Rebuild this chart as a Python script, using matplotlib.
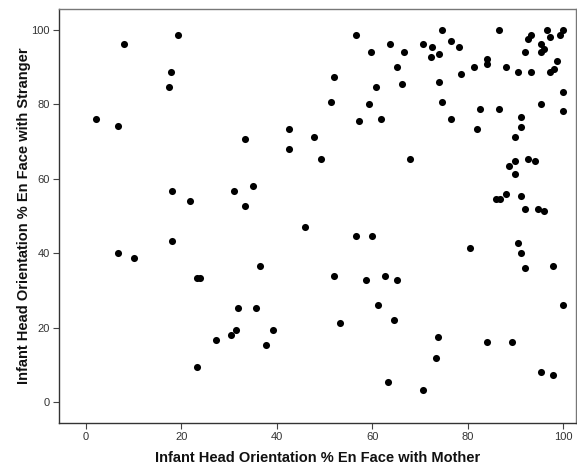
#!/usr/bin/env python3
"""Scatter of infant head orientation en face with mother vs. with stranger."""

import matplotlib

matplotlib.use("Agg")
import matplotlib.pyplot as plt

# percent en face with mother (x) and with stranger (y), one pair per infant
with_mother = [
    19.3, 8.0, 17.8, 17.3, 2.0, 6.6, 18.0, 21.8, 33.3, 42.6,
    42.6, 47.9, 49.2, 31.0, 35.1, 33.3, 56.6, 63.8, 59.8, 66.7,
    74.6, 70.6, 72.6, 72.3, 74.1, 76.5, 65.3, 51.9, 60.7, 66.2,
    74.0, 51.3, 59.3, 74.6, 57.3, 61.9, 76.5, 68.0, 86.6, 96.6,
    100.0, 93.2, 92.7, 97.3, 99.4, 78.1, 92.0, 95.3, 96.0, 95.3,
    98.7, 84.0, 84.0, 81.3, 78.6, 88.1, 90.6, 93.3, 97.3, 98.1,
    100.0, 95.3, 100.0, 82.7, 86.6, 82.0, 91.3, 91.3, 90.0, 92.7,
    94.1, 90.0, 88.7, 90.0, 88.1, 91.3, 86.0, 86.7, 92.0, 94.7,
    96.0, 18.0, 6.6, 10.0, 45.9, 36.5, 23.3, 24.0, 31.9, 35.6,
    31.4, 30.5, 39.3, 27.3, 37.7, 23.3, 56.6, 60.0, 51.9, 58.6,
    62.7, 65.3, 61.2, 53.3, 64.6, 73.9, 73.3, 63.3, 70.6, 80.6,
    90.6, 91.3, 92.0, 98.0, 100.0, 84.0, 89.3, 95.3, 98.0,
]
with_stranger = [
    98.7, 96.1, 88.7, 84.7, 76.1, 74.1, 56.8, 54.1, 70.7, 73.4,
    68.0, 71.3, 65.4, 56.7, 58.0, 52.7, 98.7, 96.2, 94.1, 94.1,
    100.0, 96.1, 95.4, 92.7, 93.5, 96.9, 90.1, 87.4, 84.7, 85.4,
    86.1, 80.7, 80.0, 80.7, 75.4, 76.1, 76.1, 65.4, 100.0, 100.0,
    100.0, 98.7, 97.6, 98.1, 98.7, 95.4, 94.1, 96.2, 94.8, 94.0,
    91.5, 92.2, 90.7, 90.1, 88.1, 90.1, 88.7, 88.7, 88.7, 89.5,
    83.4, 80.0, 78.1, 78.8, 78.8, 73.4, 76.7, 74.0, 71.3, 65.4,
    64.7, 64.7, 63.4, 61.4, 56.0, 55.4, 54.7, 54.7, 52.0, 52.0,
    51.4, 43.3, 40.1, 38.7, 47.0, 36.7, 33.4, 33.4, 25.4, 25.4,
    19.4, 18.1, 19.4, 16.7, 15.4, 9.4, 44.7, 44.7, 34.0, 32.8,
    34.0, 32.8, 26.0, 21.4, 22.0, 17.4, 12.0, 5.4, 3.4, 41.4,
    42.7, 40.0, 36.1, 36.7, 26.0, 16.1, 16.1, 8.1, 7.4,
]
ticks = [0, 20, 40, 60, 80, 100]

plt.rcParams["font.family"] = ["Liberation Sans", "DejaVu Sans"]

fig = plt.figure(figsize=(5.77, 4.70), dpi=100)
ax = fig.add_axes((0.1028, 0.1006, 0.8952, 0.8803))

ax.scatter(with_mother, with_stranger, s=26, c="black", linewidths=0, zorder=3)

ax.set_xlim(-5.6, 102.7)
ax.set_ylim(-5.5, 105.6)
ax.set_xticks(ticks)
ax.set_yticks(ticks)
ax.tick_params(direction="out", length=4, width=0.8, color="#444444",
               labelsize=8, labelcolor="#333333", pad=3)

for side in ("left", "bottom"):
    ax.spines[side].set_color("#333333")
    ax.spines[side].set_linewidth(1.0)
for side in ("top", "right"):
    ax.spines[side].set_color("#777777")
    ax.spines[side].set_linewidth(1.0)

ax.set_xlabel("Infant Head Orientation % En Face with Mother",
              fontsize=10.5, fontweight="bold", color="#111111", labelpad=6)
ax.set_ylabel("Infant Head Orientation % En Face with Stranger",
              fontsize=10.5, fontweight="bold", color="#111111", labelpad=0)

fig.savefig("out.png", dpi=100)
plt.close(fig)
